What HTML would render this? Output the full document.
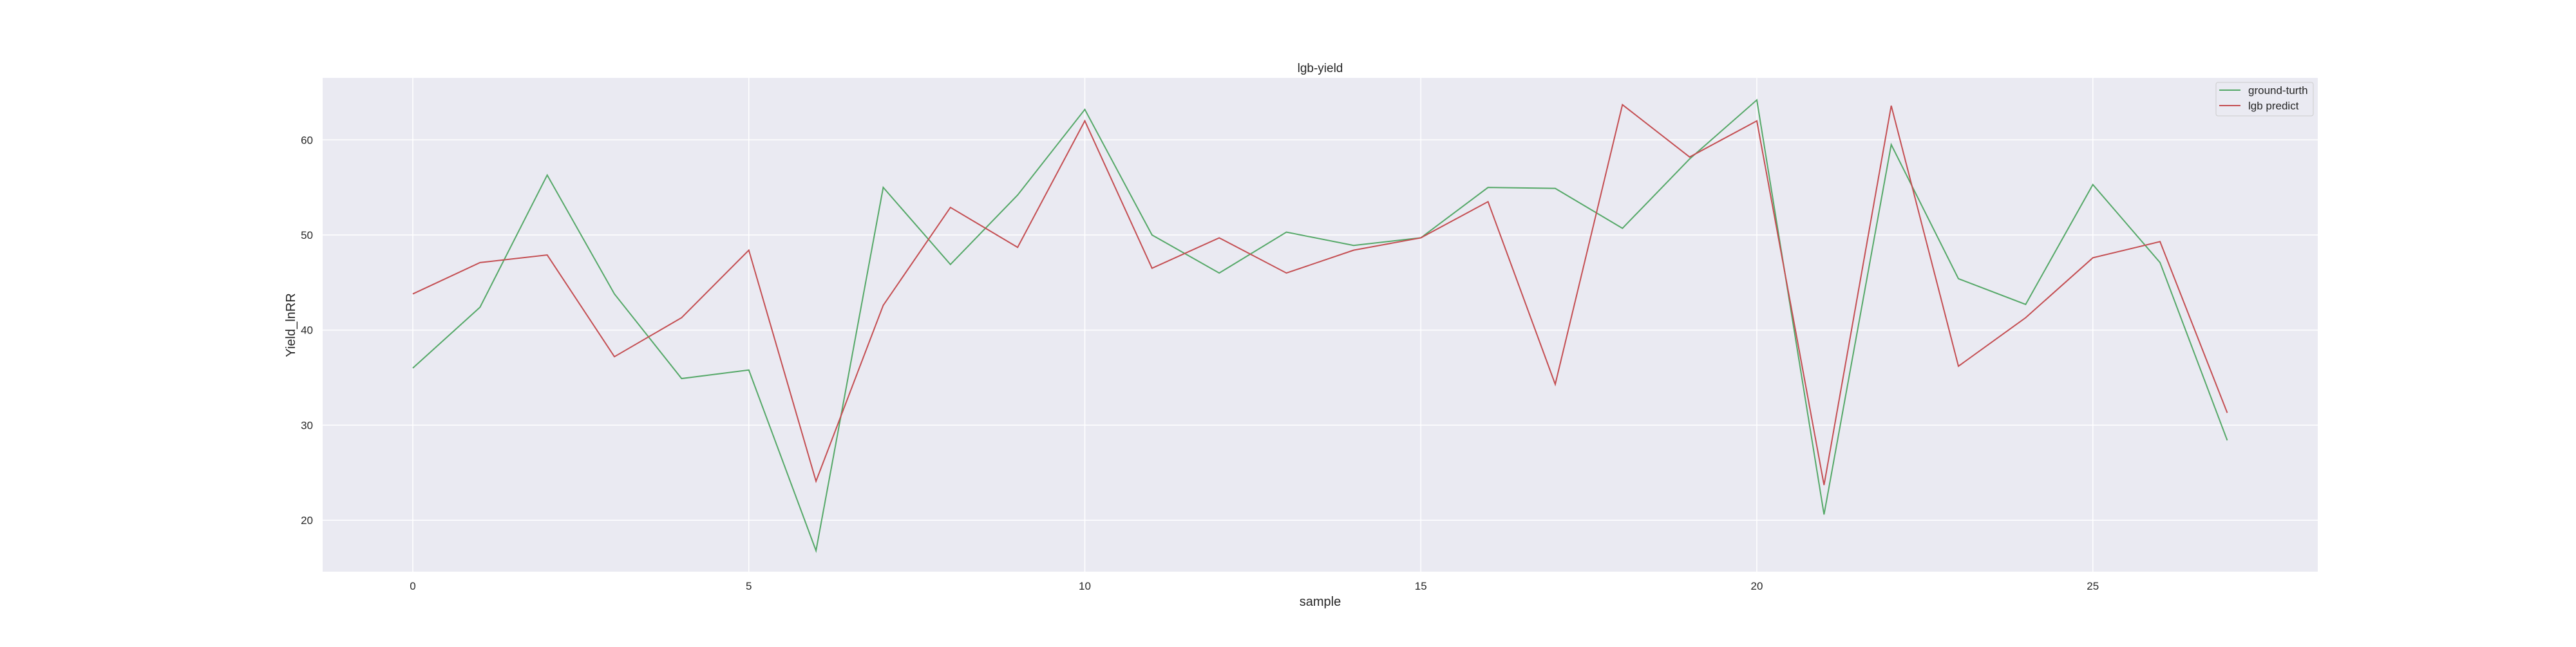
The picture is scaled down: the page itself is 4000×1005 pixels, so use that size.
<!DOCTYPE html>
<html><head><meta charset="utf-8"><style>
html,body{margin:0;padding:0;background:#fff;}
svg text{font-family:"Liberation Sans",sans-serif;fill:#262626;}
</style></head><body>
<svg id="chart" width="4000" height="1000" xmlns="http://www.w3.org/2000/svg">
<rect x="501" y="121" width="3098" height="767" fill="#eaeaf2"/>
<g id="grid"></g>
<g id="series"></g>
<text x="2050" y="112" font-size="19" text-anchor="middle">lgb-yield</text>
<text x="2050" y="941" font-size="20" text-anchor="middle">sample</text>
<text x="458" y="505" font-size="20" text-anchor="middle" transform="rotate(-90 458 505)">Yield_lnRR</text>
<g>
<rect x="3441" y="128" width="151" height="52" rx="3" fill="#eaeaf2" stroke="#cccccc" stroke-width="1"/>
<line x1="3446" y1="140" x2="3479" y2="140" stroke="#55a868" stroke-width="2"/>
<text x="3491" y="146" font-size="17">ground-turth</text>
<line x1="3446" y1="164" x2="3479" y2="164" stroke="#c44e52" stroke-width="2"/>
<text x="3491" y="170" font-size="17">lgb predict</text>
</g>
</svg>
<script>
const groundTruth = [36.0,42.4,56.3,43.8,34.9,35.8,16.8,55.0,46.9,54.2,63.2,50.0,46.0,50.3,48.9,49.7,55.0,54.9,50.7,58.0,64.2,20.6,59.5,45.4,42.7,55.3,47.1,28.4];
const lgbPredict = [43.8,47.1,47.9,37.2,41.3,48.4,24.1,42.6,52.9,48.7,62.0,46.5,49.7,46.0,48.4,49.7,53.5,34.3,63.7,58.2,62.0,23.7,63.6,36.2,41.3,47.6,49.3,31.3];
const xTicks = [0,5,10,15,20,25];
const yTicks = [20,30,40,50,60];

const NS = "http://www.w3.org/2000/svg";
function xs(i){ return 641 + i*104.35; }
function ys(v){ return 217.3 + (60 - v)*14.77; }
const grid = document.getElementById('grid');
const series = document.getElementById('series');
const svg = document.getElementById('chart');
function mk(tag, attrs, parent){ const e=document.createElementNS(NS,tag); for(const k in attrs) e.setAttribute(k,attrs[k]); parent.appendChild(e); return e; }
xTicks.forEach(t=>{
  const l = mk('line',{x1:xs(t),x2:xs(t),y1:121,y2:888,stroke:'#fff','stroke-width':1.5},grid);
  
  
  const tx = mk('text',{x:xs(t),y:916,'font-size':17,'text-anchor':'middle'},svg);
  tx.textContent = t;
  
  
});
yTicks.forEach(t=>{
  const l = mk('line',{x1:501,x2:3599,y1:ys(t),y2:ys(t),stroke:'#fff','stroke-width':1.5},grid);
  
  
  const tx = mk('text',{x:486,y:ys(t)+6,'font-size':17,'text-anchor':'end'},svg);
  tx.textContent = t;
  
  
});
function drawLine(arr,color,name){
  const p = mk('polyline',{points:arr.map((v,i)=>xs(i)+','+ys(v)).join(' '),fill:'none',stroke:color,'stroke-width':2,'stroke-linejoin':'miter'},series);
  
  
}
drawLine(groundTruth,'#55a868','ground-truth-line');
drawLine(lgbPredict,'#c44e52','lgb-predict-line');
</script>
</body></html>
